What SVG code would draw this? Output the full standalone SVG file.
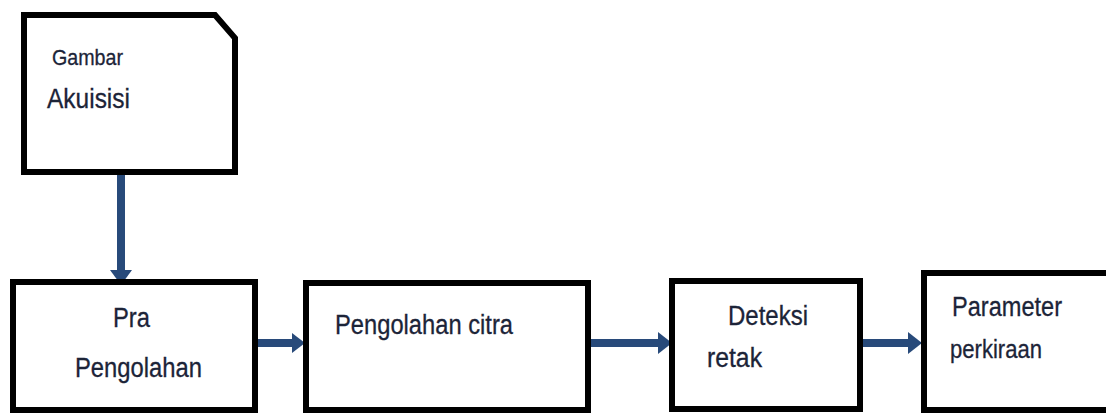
<svg xmlns="http://www.w3.org/2000/svg" width="1106" height="415" viewBox="0 0 1106 415">
<style>
.box{fill:#ffffff;stroke:#000000;stroke-width:6}
.t{font-family:"Liberation Sans",Arial,sans-serif;fill:#1c2438;font-size:27px;stroke:#1c2438;stroke-width:0.3}
.c{stroke:#284a7a;stroke-width:8;fill:none}
.h{fill:#284a7a}
</style>
<rect width="1106" height="415" fill="#ffffff"/>
<g id="connectors">
<line class="c" x1="121" y1="175" x2="121" y2="272"/>
<polygon class="h" points="110,270 132,270 121,285"/>
<line class="c" x1="258" y1="343" x2="294" y2="343"/>
<polygon class="h" points="292,333 292,353 305,343"/>
<line class="c" x1="591" y1="343" x2="660" y2="343"/>
<polygon class="h" points="658,332 658,354 672,343"/>
<line class="c" x1="863" y1="343" x2="910" y2="343"/>
<polygon class="h" points="908,332 908,354 922,343"/>
</g>
<g id="akuisisi">
<path class="box" d="M24,15 L215,15 L235,38 L235,172 L24,172 Z"/>
<text class="t" x="52" y="65" style="font-size:22px" textLength="71" lengthAdjust="spacingAndGlyphs">Gambar</text>
<text class="t" x="47" y="108" textLength="83" lengthAdjust="spacingAndGlyphs">Akuisisi</text>
</g>
<g id="pra">
<rect class="box" x="13" y="282" width="242" height="128"/>
<text class="t" x="113" y="327" textLength="37" lengthAdjust="spacingAndGlyphs">Pra</text>
<text class="t" x="75" y="377" textLength="127" lengthAdjust="spacingAndGlyphs">Pengolahan</text>
</g>
<g id="citra">
<rect class="box" x="306" y="283" width="282" height="127"/>
<text class="t" x="335" y="334" textLength="178" lengthAdjust="spacingAndGlyphs">Pengolahan citra</text>
</g>
<g id="deteksi">
<rect class="box" x="672" y="281" width="188" height="128"/>
<text class="t" x="728" y="325" textLength="80" lengthAdjust="spacingAndGlyphs">Deteksi</text>
<text class="t" x="707" y="367" textLength="55" lengthAdjust="spacingAndGlyphs">retak</text>
</g>
<g id="parameter">
<rect class="box" x="924" y="273" width="200" height="137"/>
<text class="t" x="952" y="316" textLength="110" lengthAdjust="spacingAndGlyphs">Parameter</text>
<text class="t" x="950" y="358" style="font-size:25px" textLength="92" lengthAdjust="spacingAndGlyphs">perkiraan</text>
</g>
</svg>
